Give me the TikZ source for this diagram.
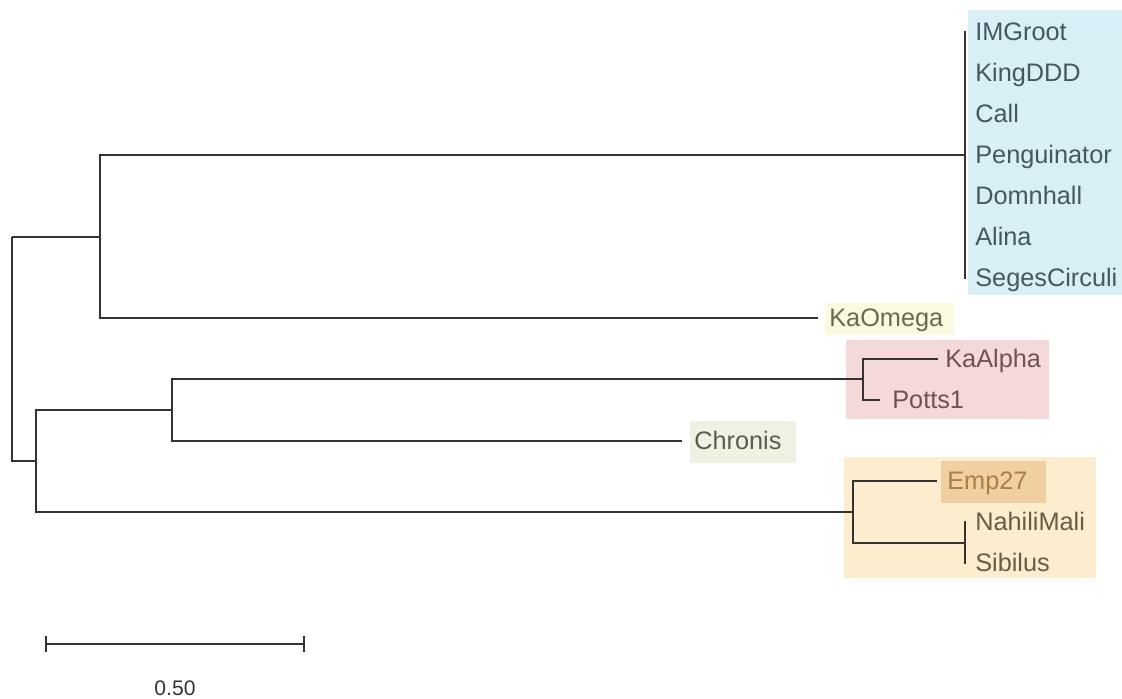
\documentclass[tikz,border=0pt]{standalone}
\usepackage{fontspec}
\setmainfont{Liberation Sans}
\usetikzlibrary{calc}

\definecolor{branch}{RGB}{51,51,51}
\definecolor{blueBg}{RGB}{217,239,246}
\definecolor{omegaBg}{RGB}{250,250,222}
\definecolor{alphaBg}{RGB}{245,216,216}
\definecolor{chronBg}{RGB}{239,241,226}
\definecolor{empBg}{RGB}{251,237,206}
\definecolor{empLeafBg}{RGB}{240,207,160}
\definecolor{blueTxt}{RGB}{68,88,96}
\definecolor{omegaTxt}{RGB}{108,104,82}
\definecolor{alphaTxt}{RGB}{108,84,84}
\definecolor{chronTxt}{RGB}{88,94,80}
\definecolor{empTxt}{RGB}{104,92,70}
\definecolor{empLeafTxt}{RGB}{172,126,72}

\begin{document}
\begin{tikzpicture}[
    x=0.025cm, y=-0.025cm,
    edge/.style={draw=branch, line width=1pt},
    leaf/.style={anchor=base west, inner sep=0pt, font=\fontsize{18}{20}\selectfont},
]
\useasboundingbox (0,0) rectangle (1122,698);

% === Clade highlights ===
\fill[blueBg] (968,10) rectangle (1122,295);
\fill[omegaBg] (825,303) rectangle (954,335);
\fill[alphaBg] (846,340) rectangle (1049,419);
\fill[chronBg] (690,421) rectangle (796,463);
\fill[empBg] (844,457) rectangle (1096,578);
\fill[empLeafBg] (941,461) rectangle (1046,503);

% === Internal nodes ===
\coordinate (root) at (12,237);
\coordinate (upper) at (100,237);
\coordinate (poly) at (965,155);
\coordinate (lower) at (36,461);
\coordinate (mid) at (172,410);
\coordinate (alpha) at (863,379);
\coordinate (emp) at (853,512);
\coordinate (nahili) at (965,543);

% === Leaf tips ===
\foreach \name/\y in {IMGroot/32, KingDDD/73, Call/114, Penguinator/155,
                      Domnhall/196, Alina/237, SegesCirculi/278}
    \coordinate (t\name) at (965.5,\y);
\coordinate (tKaOmega) at (818,318);
\coordinate (tKaAlpha) at (938,359);
\coordinate (tPotts) at (880,400);
\coordinate (tChronis) at (682,441);
\coordinate (tEmp) at (937,481);
\coordinate (tNahili) at (965.5,522);
\coordinate (tSibilus) at (965.5,563);

% === Branches ===
\draw[edge] (root) |- (upper) (root) |- (lower);
\draw[edge] (upper) |- (poly);
\draw[edge] (upper) |- (tKaOmega);
\foreach \name in {IMGroot, KingDDD, Call, Penguinator, Domnhall, Alina, SegesCirculi}
    \draw[edge] (poly) |- (t\name);
\draw[edge] (lower) |- (mid);
\draw[edge] (lower) |- (emp);
\draw[edge] (mid) |- (alpha);
\draw[edge] (mid) |- (tChronis);
\draw[edge] (alpha) |- (tKaAlpha);
\draw[edge] (alpha) |- (tPotts);
\draw[edge] (emp) |- (tEmp);
\draw[edge] (emp) |- (nahili);
\draw[edge] (nahili) |- (tNahili);
\draw[edge] (nahili) |- (tSibilus);

% === Leaf labels ===
\foreach \name/\y in {IMGroot/32, KingDDD/73, Call/114, Penguinator/155,
                      Domnhall/196, Alina/237, SegesCirculi/278}
    \node[leaf, text=blueTxt] (l\name) at (975,\y+8) {\name};
\node[leaf, text=omegaTxt] (lKaOmega) at (829,318+8) {KaOmega};
\node[leaf, text=alphaTxt] (lKaAlpha) at (945,359+8) {KaAlpha};
\node[leaf, text=alphaTxt] (lPotts) at (892,400+8) {Potts1};
\node[leaf, text=chronTxt] (lChronis) at (694,441+8) {Chronis};
\node[leaf, text=empLeafTxt] (lEmp) at (947,481+8) {Emp27};
\node[leaf, text=empTxt] (lNahili) at (975,522+8) {NahiliMali};
\node[leaf, text=empTxt] (lSibilus) at (975,563+8) {Sibilus};

% === Scale bar ===
\coordinate (sbL) at (46,644);
\coordinate (sbR) at (304,644);
\draw[edge] (sbL) -- (sbR);
\draw[edge] ($(sbL)+(0,-8)$) -- ($(sbL)+(0,8)$);
\draw[edge] ($(sbR)+(0,-8)$) -- ($(sbR)+(0,8)$);
\node[text=branch, font=\fontsize{15}{17}\selectfont] (sbLabel) at (175,688) {0.50};
\end{tikzpicture}
\end{document}
